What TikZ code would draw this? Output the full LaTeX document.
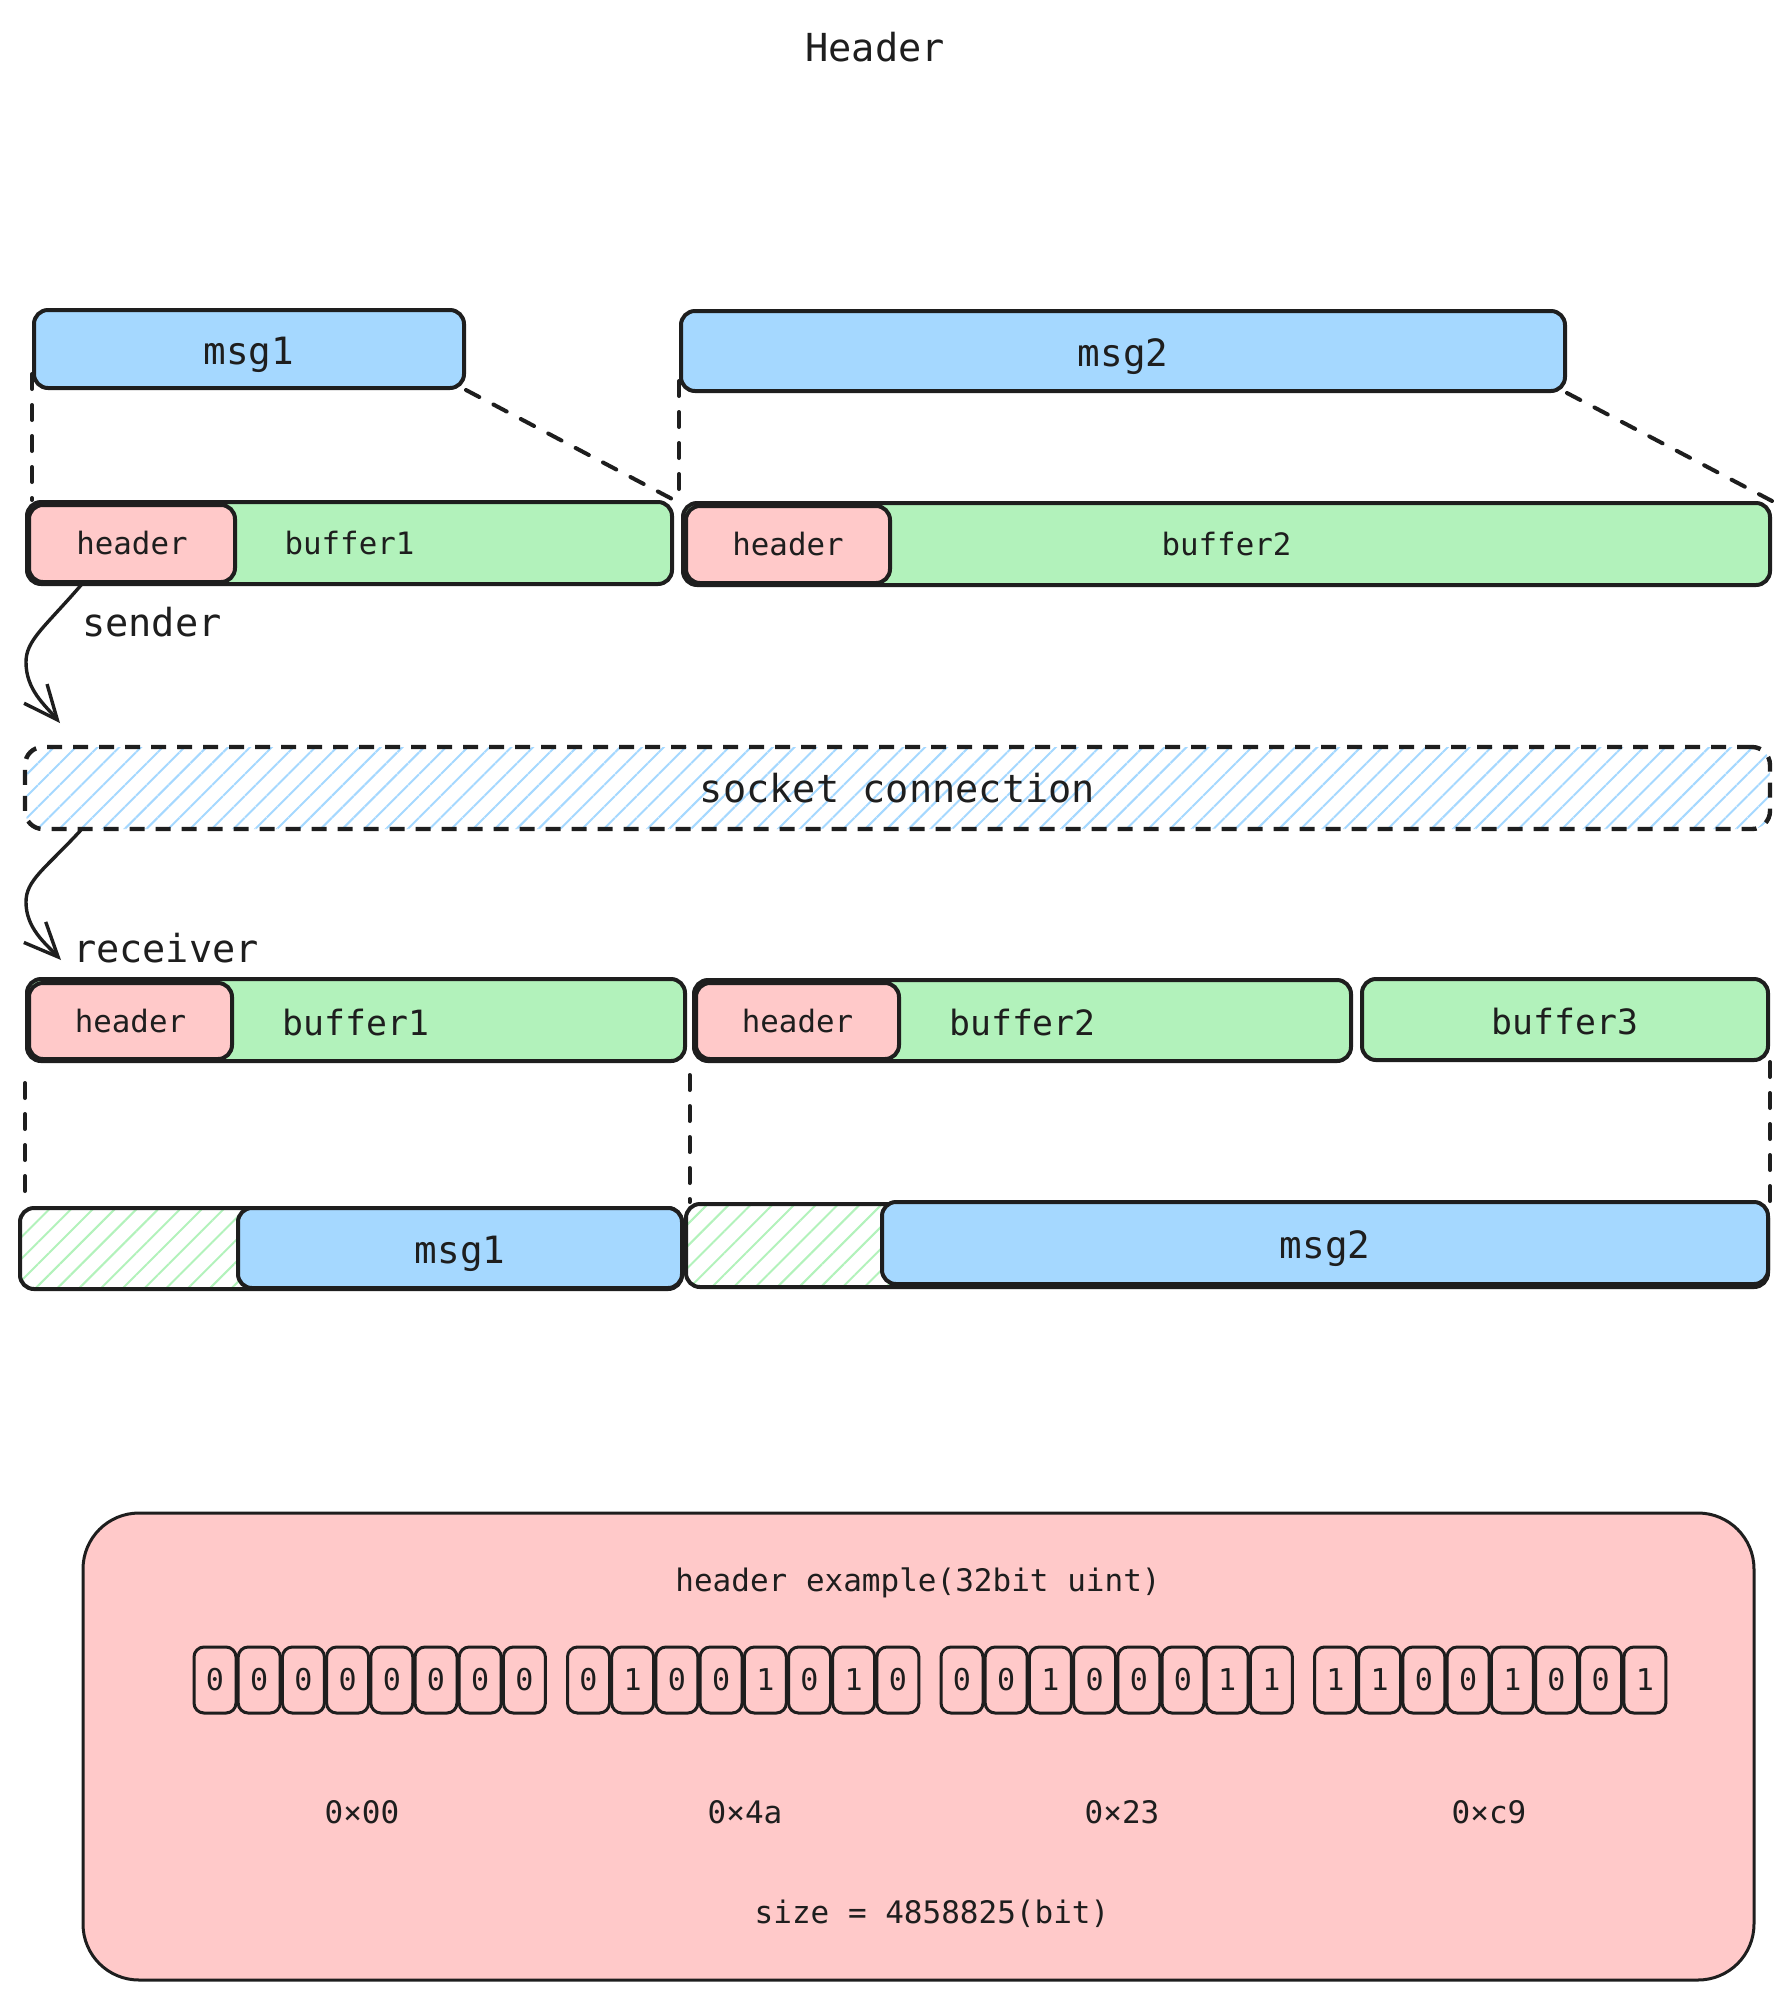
\documentclass[tikz,border=0pt]{standalone}
\usepackage{fontspec}
\usepackage{tikz}
\usetikzlibrary{arrows.meta,positioning,calc,patterns.meta}
\newfontfamily\codefont{DejaVu Sans Mono}
\definecolor{msgblue}{HTML}{A5D8FF}
\definecolor{bufgreen}{HTML}{B2F2BB}
\definecolor{hdrpink}{HTML}{FFC9C9}
\definecolor{ink}{HTML}{1E1E1E}

\begin{document}
\begin{tikzpicture}[
    x=0.5pt, y=-0.5pt,
    every node/.style={text=ink, inner sep=0pt},
    box/.style={draw=ink, line width=2pt, rounded corners=7pt},
    msgbox/.style={box, fill=msgblue, font=\codefont\fontsize{18.8}{22}\selectfont,
      text height=15.6pt, text depth=0pt},
    bufbox/.style={box, fill=bufgreen, font=\codefont\fontsize{15.4}{18}\selectfont},
    bigbuf/.style={bufbox, font=\codefont\fontsize{17.4}{20}\selectfont, text height=15pt, text depth=0pt},
    hdrbox/.style={box, fill=hdrpink, font=\codefont\fontsize{15.4}{18}\selectfont},
    padbox/.style={box, pattern={Lines[angle=45, distance=7.7pt, line width=1pt]}, pattern color=bufgreen},
    sockbox/.style={draw=ink, line width=2.2pt, rounded corners=9pt, dash pattern=on 7.5pt off 5.5pt,
      pattern={Lines[angle=45, distance=7.7pt, line width=1pt]}, pattern color=msgblue},
    bitbox/.style={draw=ink, line width=1.5pt, rounded corners=5pt, minimum width=21pt,
      minimum height=33pt, font=\codefont\fontsize{15}{18}\selectfont},
    link/.style={draw=ink, line width=2pt, line cap=round, dash pattern=on 7.5pt off 8pt},
    flow/.style={draw=ink, line width=1.7pt, -{Straight Barb[length=17pt, width=15pt, line width=1.7pt]}},
    lbl/.style={font=\codefont\fontsize{19.3}{22}\selectfont},
    small/.style={font=\codefont\fontsize{15.5}{18}\selectfont},
  ]
  \useasboundingbox (0,0) rectangle (1790,1999);

  \node[lbl] (title) at (875,47) {Header};

  % sender side: messages packed into buffers
  \node[msgbox, minimum width=215pt, minimum height=39pt] (msg1t) at (249,349) {msg1};
  \node[msgbox, minimum width=442pt, minimum height=40pt] (msg2t) at (1123,351) {msg2};
  \node[bufbox, minimum width=322.5pt, minimum height=41pt] (buf1t) at (349.5,543) {buffer1};
  \node[hdrbox, minimum width=103pt, minimum height=38.5pt] (hdr1t) at (132,543.5) {header};
  \node[bufbox, minimum width=543.5pt, minimum height=41pt] (buf2t) at (1226.5,544) {buffer2};
  \node[hdrbox, minimum width=102pt, minimum height=38.5pt] (hdr2t) at (788,544.5) {header};

  \draw[link] ([yshift=8pt]msg1t.south west) -- (msg1t.south west |- buf1t.north);
  \draw[link] (msg1t.south east) -- (buf1t.north east);
  \draw[link] ([yshift=6pt]msg2t.south west) -- (msg2t.south west |- buf2t.north);
  \draw[link] (msg2t.south east) -- (buf2t.north east);

  % socket
  \node[sockbox, lbl, minimum width=872.5pt, minimum height=41pt] (sock) at (897.5,788) {socket connection};

  \coordinate (snd-tip) at (60,723);
  \draw[flow] ([xshift=-25pt]hdr1t.south) .. controls (45,627) and (26,640) .. (26,662)
    .. controls (26,690) and (45,705) .. (snd-tip);
  \node[lbl] (sndlbl) at (152,622) {sender};

  \coordinate (rcv-tip) at (61,960);
  \draw[flow] ([xshift=28.5pt]sock.south west) .. controls (45,869) and (26,880) .. (26,902)
    .. controls (26,928) and (45,943) .. (rcv-tip);
  \node[lbl] (rcvlbl) at (166,948) {receiver};

  % receiver side: buffers unpacked into messages
  \node[bigbuf, minimum width=329pt, minimum height=41pt] (buf1b) at (356,1020) {buffer1};
  \node[hdrbox, minimum width=101.5pt, minimum height=38pt] (hdr1b) at (130.5,1021) {header};
  \node[bigbuf, minimum width=328.5pt, minimum height=40.5pt] (buf2b) at (1022.5,1020.5) {buffer2};
  \node[hdrbox, minimum width=101.5pt, minimum height=38pt] (hdr2b) at (797.5,1021) {header};
  \node[bigbuf, minimum width=203pt, minimum height=40.5pt] (buf3b) at (1565,1019.5) {buffer3};

  \node[padbox, minimum width=331pt, minimum height=40.5pt] (pad1) at (351,1248.5) {};
  \node[msgbox, minimum width=222pt, minimum height=40pt] (msg1b) at (460,1248) {msg1};
  \node[padbox, minimum width=541pt, minimum height=41.5pt] (pad2) at (1227,1245.5) {};
  \node[msgbox, minimum width=443pt, minimum height=41pt] (msg2b) at (1325,1243) {msg2};

  \coordinate (cut) at ($(buf1b.south east)!0.5!(buf2b.south west)$);
  \draw[link] ([yshift=-10pt]buf1b.south west) -- (buf1b.south west |- pad1.north);
  \draw[link] ([yshift=-6pt]cut) -- (cut |- pad2.north);
  \draw[link] (buf3b.south east) -- (buf3b.south east |- pad2.north);

  % header example
  \node[draw=ink, line width=1.5pt, fill=hdrpink, rounded corners=28pt,
    minimum width=835.5pt, minimum height=233.5pt] (example) at (918.5,1746.5) {};
  \node[small] (extitle) at (918,1583) {header example(32bit uint)};
  \foreach \g/\bits in {0/{0,0,0,0,0,0,0,0}, 1/{0,1,0,0,1,0,1,0}, 2/{0,0,1,0,0,0,1,1}, 3/{1,1,0,0,1,0,0,1}}
    \foreach \b [count=\i from 0] in \bits
      \node[bitbox] (bit-\g-\i) at ({215+373.5*\g+44.2*\i},1680) {\b};
  \foreach \g/\hx/\hex in {0/362/00, 1/745/4a, 2/1122/23, 3/1489/c9}
    \node[small] (hex-\g) at (\hx,1812) {0×\hex};
  \node[small] (size) at (932,1914) {size = 4858825(bit)};
\end{tikzpicture}
\end{document}
